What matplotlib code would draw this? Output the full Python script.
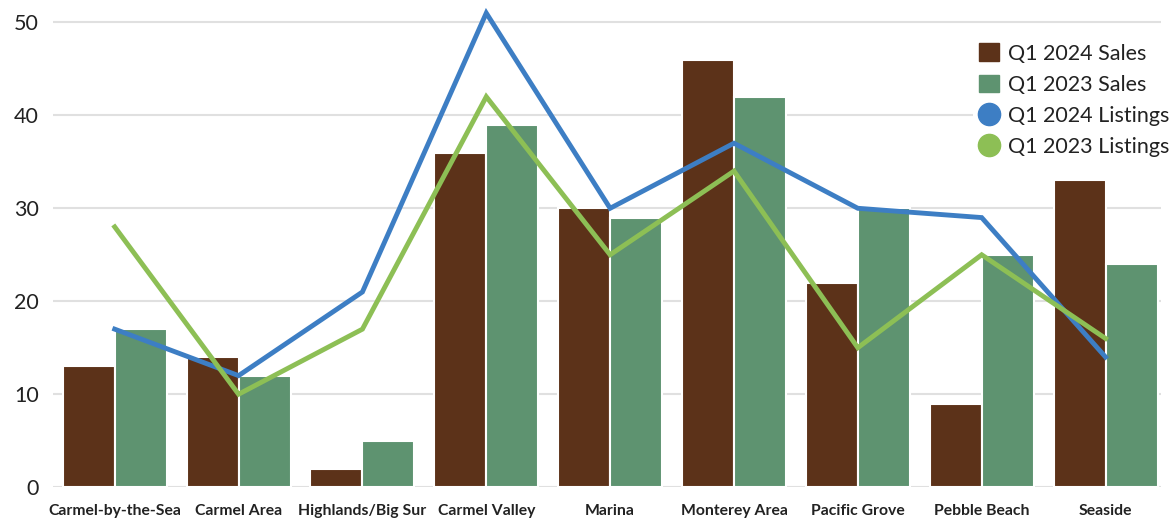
import matplotlib
matplotlib.use("Agg")
import matplotlib.pyplot as plt
import numpy as np
from matplotlib.lines import Line2D
from matplotlib.patches import Patch

# ── data ──
areas = ["Carmel-by-the-Sea", "Carmel Area", "Highlands/Big Sur", "Carmel Valley",
         "Marina", "Monterey Area", "Pacific Grove", "Pebble Beach", "Seaside"]
sales_2024 = [13, 14, 2, 36, 30, 46, 22, 9, 33]
sales_2023 = [17, 12, 5, 39, 29, 42, 30, 25, 24]
listings_2024 = [17, 12, 21, 51, 30, 37, 30, 29, 14]
listings_2023 = [28, 10, 17, 42, 25, 34, 15, 25, 16]
y_ticks = [0, 10, 20, 30, 40, 50]

# ── style ──
BROWN = "#5C3219"
GREEN = "#5E9370"
BLUE = "#3D7EC4"
LIME = "#8DBF55"
TEXT = "#222222"
plt.rcParams["font.family"] = ["Lato", "DejaVu Sans"]

fig = plt.figure(figsize=(11.73, 5.25), dpi=100)
ax = fig.add_axes([0.045, 0.072, 0.945, 0.912])

x = np.arange(len(areas))
w = 0.42
ax.bar(x - w / 2, sales_2024, w, color=BROWN, edgecolor="white", linewidth=1.5, zorder=2)
ax.bar(x + w / 2, sales_2023, w, color=GREEN, edgecolor="white", linewidth=1.5, zorder=2)
ax.plot(x, listings_2024, color=BLUE, lw=3.5, zorder=3, solid_joinstyle="miter")
ax.plot(x, listings_2023, color=LIME, lw=3.5, zorder=3, solid_joinstyle="miter")

ax.set_xlim(-0.5, 8.45)
ax.set_ylim(0, 51.5)
ax.set_yticks(y_ticks)
ax.set_xticks(x)
ax.set_xticklabels(areas, fontsize=11.3, fontweight="bold", color=TEXT)
ax.tick_params(axis="y", labelsize=15.5, colors=TEXT, length=0, pad=10)
ax.tick_params(axis="x", length=0, pad=12)
ax.grid(axis="y", color="#e0e0e0", lw=1.5, zorder=0)
ax.set_axisbelow(True)
for s in ax.spines.values():
    s.set_visible(False)

handles = [
    Patch(color=BROWN, label="Q1 2024 Sales"),
    Patch(color=GREEN, label="Q1 2023 Sales"),
    Line2D([], [], marker="o", ls="none", color=BLUE, markersize=16, label="Q1 2024 Listings"),
    Line2D([], [], marker="o", ls="none", color=LIME, markersize=16, label="Q1 2023 Listings"),
]
leg = fig.legend(handles=handles, loc="upper right", bbox_to_anchor=(1.012, 0.95),
                 fontsize=15.5, frameon=True, facecolor="white", edgecolor="none",
                 framealpha=1, handlelength=0.9, handleheight=0.9, handletextpad=0.45,
                 labelspacing=0.5, borderpad=0.3)
for t in leg.get_texts():
    t.set_color(TEXT)

fig.savefig("out.png", dpi=100)
